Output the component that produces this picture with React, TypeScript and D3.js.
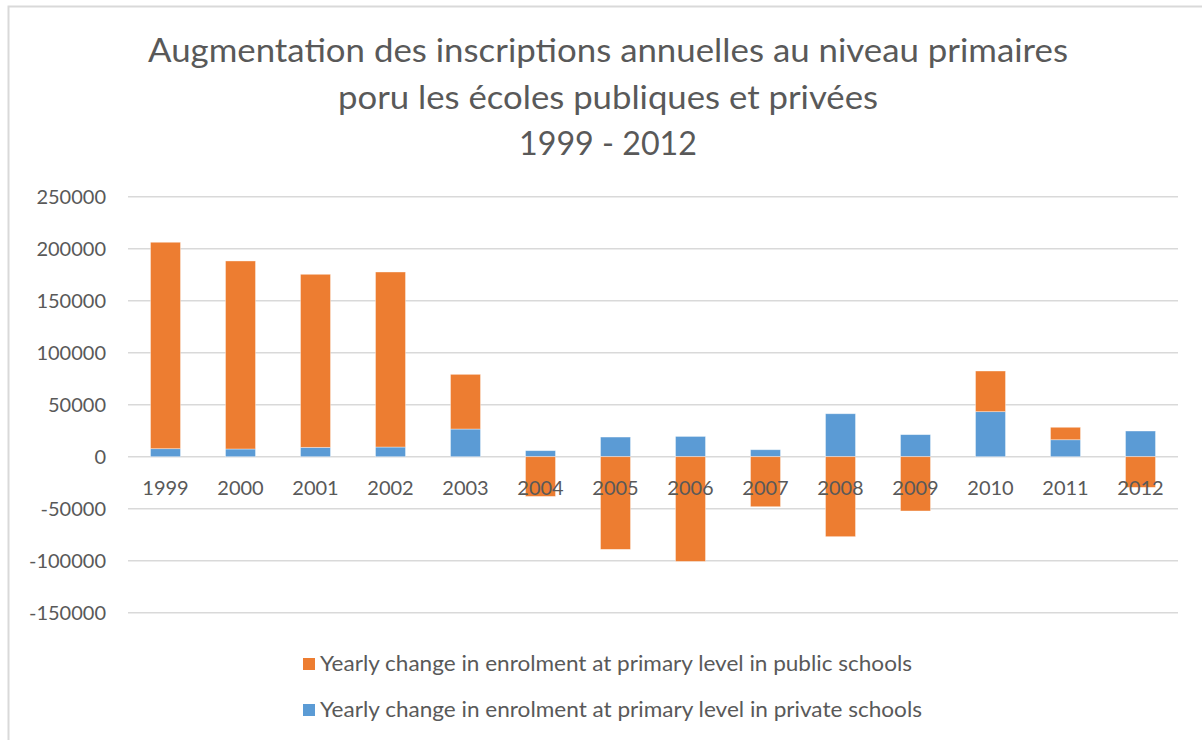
import React from "react";
import * as d3 from "d3";

const years = ["1999","2000","2001","2002","2003","2004","2005","2006","2007","2008","2009","2010","2011","2012"];
const privateValues = [7700, 7400, 9000, 9300, 26600, 5800, 18900, 19500, 6700, 41300, 21200, 43300, 16300, 24700];
const publicValues = [198500, 180800, 166400, 168300, 52600, -38200, -89100, -100700, -48100, -76900, -52200, 39100, 12000, -29500];
const yTicks = [250000, 200000, 150000, 100000, 50000, 0, -50000, -100000, -150000];
const titleLines = [
  "Augmentation des inscriptions annuelles au niveau primaires",
  "poru les écoles publiques et privées",
  "1999 - 2012",
];
const titleWidths = [920, 540, 178];
const seriesNames = {
  public: "Yearly change in enrolment at primary level in public schools",
  private: "Yearly change in enrolment at primary level in private schools",
};
const legendWidths = { public: 592, private: 602 };

const COLORS: Record<string, string> = { public: "#ED7D31", private: "#5B9BD5" };
const TEXT = "#595959";
const GRID = "#D9D9D9";
const FONT = "Lato, 'Open Sans', sans-serif";

export default function App() {
  const W = 1202, H = 740;
  const plotLeft = 128, plotRight = 1178;
  const x = d3.scaleBand<string>().domain(years).range([plotLeft, plotRight]).paddingInner(0.6).paddingOuter(0.3);
  const y = d3.scaleLinear().domain([-150000, 250000]).range([612.7, 196.7]);

  const rows = years.map((yr, i) => ({ year: yr, private: privateValues[i], public: publicValues[i] }));
  const stack = d3.stack<any>().keys(["private", "public"]).offset(d3.stackOffsetDiverging);
  const series = stack(rows);

  return (
    <svg width={W} height={H} style={{ position: "absolute", left: 0, top: 0, background: "#fff" }} fontFamily={FONT}>
      <rect x={0} y={0} width={W} height={H} fill="#fff" />
      <path d={`M8.5,${H} V6.5 H${W}`} fill="none" stroke={GRID} strokeWidth={2} />
      {titleLines.map((t, i) => (
        <text key={i} x={608} y={62 + i * 46.5} textAnchor="middle" fontSize={33} fill={TEXT}
          textLength={titleWidths[i]} lengthAdjust="spacingAndGlyphs">{t}</text>
      ))}
      {yTicks.map((t) => (
        <line key={t} x1={plotLeft} x2={plotRight} y1={y(t)} y2={y(t)} stroke={GRID} strokeWidth={1.5} />
      ))}
      {yTicks.map((t) => (
        <text key={"l" + t} x={106} y={y(t) + 7} textAnchor="end" fontSize={20} fill={TEXT}>{t}</text>
      ))}
      {series.map((s) => (
        <g key={s.key} fill={COLORS[s.key]}>
          {s.map((d, i) => {
            const y0 = Math.min(y(d[0]), y(d[1]));
            const h = Math.abs(y(d[0]) - y(d[1]));
            return (
              <rect key={i} x={x(years[i])!} y={y0} width={x.bandwidth()} height={h}
                stroke="#fff" strokeOpacity={0.5} strokeWidth={0.75} />
            );
          })}
        </g>
      ))}
      {years.map((yr) => (
        <text key={yr} x={x(yr)! + x.bandwidth() / 2} y={495} textAnchor="middle" fontSize={20} fill={TEXT}>{yr}</text>
      ))}
      {(["public", "private"] as const).map((k, i) => (
        <g key={k}>
          <rect x={303} y={658 + i * 46} width={12} height={12} fill={COLORS[k]} />
          <text x={320} y={671 + i * 46} fontSize={21} fill={TEXT}
            textLength={legendWidths[k]} lengthAdjust="spacingAndGlyphs">{seriesNames[k]}</text>
        </g>
      ))}
    </svg>
  );
}
